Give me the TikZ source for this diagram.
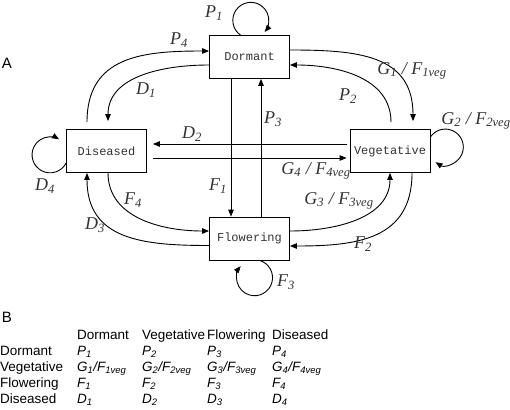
\documentclass[tikz,border=0pt]{standalone}
\usepackage{fontspec}
\setmainfont{Liberation Serif}
\newfontfamily\boxfont{Liberation Mono}
\newfontfamily\tabfont{Liberation Sans}
\usetikzlibrary{arrows.meta}
\tikzset{
  state/.style={draw, line width=0.8pt, minimum width=80pt, minimum height=43pt,
    inner sep=0pt, font=\boxfont\fontsize{12}{12}\selectfont, text=black!80},
  flow/.style={-{Triangle[length=7pt,width=5.5pt]}, line width=0.9pt},
  lab/.style={font=\fontsize{18}{18}\selectfont\itshape, text=black!80, inner sep=0pt},
  tab/.style={font=\tabfont\fontsize{13.5}{13.5}\selectfont, anchor=base west, inner sep=0pt},
  panel/.style={font=\tabfont\fontsize{15}{15}\selectfont, inner sep=0pt},
}
\newcommand{\sym}[2]{#1\textsubscript{#2}}
\begin{document}
\begin{tikzpicture}[x=1pt, y=-1pt]
    \useasboundingbox (0,0) rectangle (510,409);

    % --- 状態 ---
    \node[state] (Dormant)    at (249.5,57)  {Dormant};
    \node[state] (Diseased)   at (106.5,151) {Diseased};
    \node[state] (Vegetative) at (390,151)   {Vegetative};
    \node[state] (Flowering)  at (249.5,238.5) {Flowering};

    % --- 曲線の遷移 ---
    \draw[flow] ([shift={(-19.5,-7)}]Diseased.north) to[out=90,in=180,looseness=1.2] ([shift={(0,-6)}]Dormant.west);
    \draw[flow] ([shift={(0,8)}]Dormant.west) to[out=180,in=90] ([shift={(1.5,-8)}]Diseased.north);
    \draw[flow] ([shift={(0,-7)}]Dormant.east) to[out=0,in=90,looseness=1.2] ([shift={(23,-8)}]Vegetative.north);
    \draw[flow] ([shift={(1,-7)}]Vegetative.north) to[out=90,in=0] ([shift={(0,8)}]Dormant.east);
    \draw[flow] ([shift={(1.5,0)}]Diseased.south) to[out=-90,in=180] ([shift={(0,-7.5)}]Flowering.west);
    \draw[flow] ([shift={(0,7)}]Flowering.west) to[out=180,in=-90,looseness=1.2] ([shift={(-19.5,0)}]Diseased.south);
    \draw[flow] ([shift={(0,-7.5)}]Flowering.east) to[out=0,in=-90] (Vegetative.south);
    \draw[flow] ([shift={(22,0)}]Vegetative.south) to[out=-90,in=0,looseness=1.2] ([shift={(0,7.5)}]Flowering.east);

    % --- 直線の遷移 ---
    \draw[flow] ([shift={(-18.5,0)}]Dormant.south) -- ([shift={(-18.5,0)}]Flowering.north);
    \draw[flow] ([shift={(11.5,0)}]Flowering.north) -- ([shift={(11.5,0)}]Dormant.south);
    \draw[flow] ([shift={(-3,-7)}]Vegetative.west) -- ([shift={(6,-7)}]Diseased.east);
    \draw[flow] ([shift={(6,7)}]Diseased.east) -- ([shift={(-3,7)}]Vegetative.west);

    % --- 自己ループ ---
    \draw[flow] ([shift={(-9,0)}]Dormant.north) arc[start angle=235, end angle=-40, radius=18pt];
    \draw[flow] ([shift={(0,-14)}]Vegetative.east) arc[start angle=146, end angle=-123, radius=18pt];
    \draw[flow] ([shift={(0,12)}]Diseased.west) arc[start angle=-27, end angle=-300, radius=18pt];
    \draw[flow] ([shift={(10,0)}]Flowering.south) arc[start angle=74, end angle=-220, radius=18pt];

    % --- ラベル ---
    \node[lab] (lP1) at (214,13)  {\sym{P}{1}};
    \node[lab] (lP4) at (179,40)  {\sym{P}{4}};
    \node[lab] (lD1) at (146,90)  {\sym{D}{1}};
    \node[lab] (lD2) at (192,134) {\sym{D}{2}};
    \node[lab] (lP3) at (273,119) {\sym{P}{3}};
    \node[lab] (lG1) at (412,71)  {\sym{G}{1} / \sym{F}{1veg}};
    \node[lab] (lP2) at (348,96)  {\sym{P}{2}};
    \node[lab] (lG2) at (476,121) {\sym{G}{2} / \sym{F}{2veg}};
    \node[lab] (lD4) at (45,186)  {\sym{D}{4}};
    \node[lab] (lF4) at (133,200) {\sym{F}{4}};
    \node[lab] (lD3) at (95,225)  {\sym{D}{3}};
    \node[lab] (lF1) at (218,186) {\sym{F}{1}};
    \node[lab] (lG4) at (316,171) {\sym{G}{4} / \sym{F}{4veg}};
    \node[lab] (lG3) at (339,201) {\sym{G}{3} / \sym{F}{3veg}};
    \node[lab] (lF2) at (363,244) {\sym{F}{2}};
    \node[lab] (lF3) at (286,282) {\sym{F}{3}};

    \node[panel] (pA) at (7,63)  {A};
    \node[panel] (pB) at (7,317) {B};

    % --- 表 ---
    \foreach \name [count=\i] in {Dormant,Vegetative,Flowering,Diseased} {
        \node[tab] (col\i) at ({12+65*\i},339) {\name};
    }
    \foreach \name/\y [count=\i] in {Dormant/355,Vegetative/371,Flowering/387,Diseased/403} {
        \node[tab] (row\i) at (0,\y) {\name};
    }
    \foreach \i in {1,...,4} {
        \node[tab] (p\i) at ({12+65*\i},355) {\itshape\sym{P}{\i}};
        \node[tab] (g\i) at ({12+65*\i},371) {\itshape\sym{G}{\i}/\sym{F}{\i veg}};
        \node[tab] (f\i) at ({12+65*\i},387) {\itshape\sym{F}{\i}};
        \node[tab] (d\i) at ({12+65*\i},403) {\itshape\sym{D}{\i}};
    }
\end{tikzpicture}
\end{document}
